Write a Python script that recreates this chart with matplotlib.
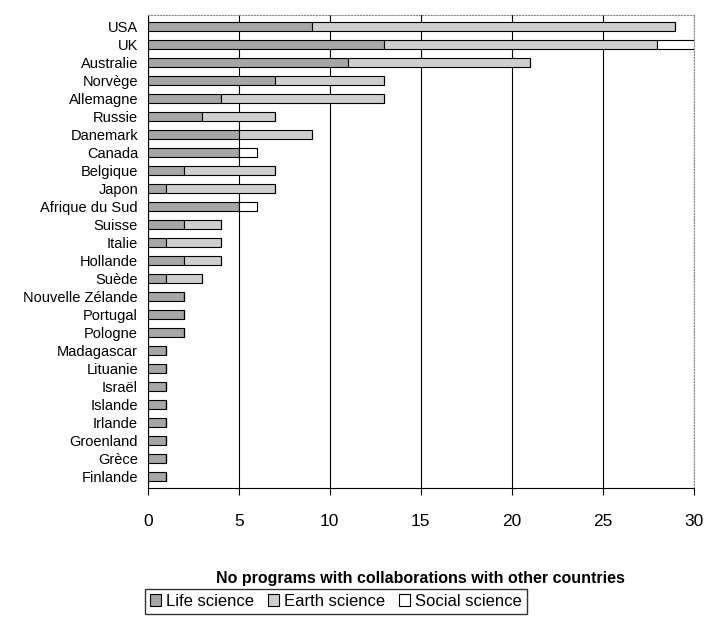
import numpy as np
import matplotlib
matplotlib.use("Agg")
import matplotlib.pyplot as plt

plt.rcParams["font.family"] = ["Liberation Sans", "DejaVu Sans"]

countries = ["USA", "UK", "Australie", "Norvège", "Allemagne", "Russie", "Danemark",
             "Canada", "Belgique", "Japon", "Afrique du Sud", "Suisse", "Italie",
             "Hollande", "Suède", "Nouvelle Zélande", "Portugal", "Pologne",
             "Madagascar", "Lituanie", "Israël", "Islande", "Irlande", "Groenland",
             "Grèce", "Finlande"]
life = [9, 13, 11, 7, 4, 3, 5, 5, 2, 1, 5, 2, 1, 2, 1, 2, 2, 2, 1, 1, 1, 1, 1, 1, 1, 1]
earth = [20, 15, 10, 6, 9, 4, 4, 0, 5, 6, 0, 2, 3, 2, 2, 0, 0, 0, 0, 0, 0, 0, 0, 0, 0, 0]
social = [0, 2, 0, 0, 0, 0, 0, 1, 0, 0, 1, 0, 0, 0, 0, 0, 0, 0, 0, 0, 0, 0, 0, 0, 0, 0]

fig = plt.figure(figsize=(7.07, 6.35), dpi=100)
ax = fig.add_axes([0.209, 0.232, 0.772, 0.744])

y = np.arange(len(countries))[::-1]
life = np.array(life)
earth = np.array(earth)
social = np.array(social)

ax.barh(y, life, height=0.5, color="#a6a6a6", edgecolor="black", linewidth=0.8,
        label="Life science", zorder=3)
ax.barh(y, earth, left=life, height=0.5, color="#cfcfcf", edgecolor="black",
        linewidth=0.8, label="Earth science", zorder=3)
ax.barh(y, social, left=life + earth, height=0.5, color="white", edgecolor="black",
        linewidth=0.8, label="Social science", zorder=3)

ax.set_xlim(0, 30)
ax.set_ylim(-0.6, len(countries) - 0.4)
ax.set_yticks(y)
ax.set_yticklabels(countries, fontsize=10.5)
ax.set_xticks(range(0, 31, 5))
ax.tick_params(axis="x", labelsize=12.5, pad=14, length=5)
ax.tick_params(axis="y", length=0, pad=7)
ax.grid(axis="x", color="black", linewidth=0.8, zorder=0)
for side in ["top", "right"]:
    ax.spines[side].set_linestyle(":")
    ax.spines[side].set_color("#888888")

ax.set_xlabel("No programs with collaborations with other countries",
              fontsize=11.5, fontweight="bold", labelpad=30)

fig.legend(loc="lower center", bbox_to_anchor=(0.475, 0.02), ncol=3, fontsize=12,
           frameon=True, fancybox=False, edgecolor="black", handlelength=0.7,
           handleheight=0.7, handletextpad=0.3, columnspacing=0.8, borderpad=0.3)

fig.savefig("out.png", dpi=100)
